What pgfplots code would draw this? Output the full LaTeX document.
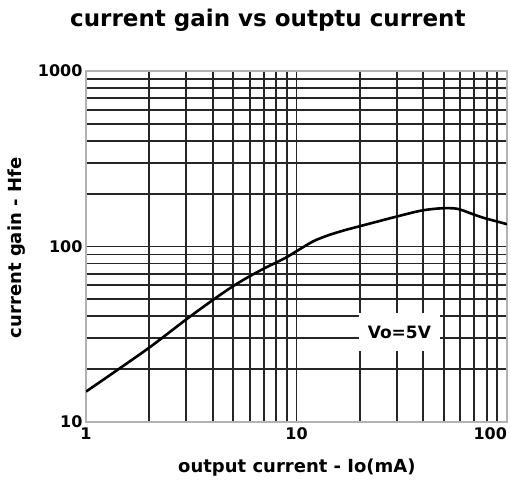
\documentclass[border=0pt]{standalone}
\usepackage{fontspec}
\setmainfont{DejaVu Sans}
\usepackage{pgfplots}
\pgfplotsset{compat=1.18}
\begin{document}
\begin{tikzpicture}
\begin{axis}[
  scale only axis,
  width=421pt, height=351pt,
  xmode=log, ymode=log,
  xmin=1, xmax=100, ymin=10, ymax=1000,
  xtick={1,10,100},
  xticklabels={1,10,\makebox[0pt][r]{100}},
  ytick={10,100,1000},
  yticklabels={10,100,1000},
  minor xtick={2,3,4,5,6,7,8,9,20,30,40,50,60,70,80,90},
  minor ytick={20,30,40,50,60,70,80,90,200,300,400,500,600,700,800,900},
  grid=both,
  major grid style={black!85, line width=1.9pt},
  minor grid style={black!85, line width=1.9pt},
  axis line style={gray!60, line width=1.9pt},
  tick style={draw=none},
  /pgf/number format/assume math mode=true,
  ticklabel style={font=\fontsize{16}{18}\selectfont\bfseries},
  xticklabel style={yshift=-2pt},
  title={current gain vs outptu current},
  title style={font=\fontsize{23}{27}\selectfont\bfseries, at={(axis description cs:0.432,1.128)}, anchor=center},
  xlabel={output current - Io(mA)},
  xlabel style={font=\fontsize{18}{21}\selectfont\bfseries, at={(axis description cs:0.501,-0.131)}, anchor=center},
  ylabel={current gain - Hfe},
  ylabel style={font=\fontsize{18}{21}\selectfont\bfseries, at={(axis description cs:-0.164,0.496)}, anchor=center, rotate=0},
]
\addplot[black, line width=2.6pt, smooth] coordinates {
(1,14.9) (1.41,19.8) (2.02,26.8) (3,38.5) (4,49.5) (4.95,59) (5.94,67.3) (7.1,75.5)
(8.84,86) (10,94) (12,107) (14.2,116) (17,124) (20,130.5) (24.4,139)
(29.2,147) (39,160) (48.5,165) (58,164) (69.7,152) (77.7,145.5) (96.5,135.6) (100,134)
};
\node[fill=white, minimum width=81pt, minimum height=38pt, inner sep=0pt,
      font=\fontsize{17}{20}\selectfont\bfseries] at (axis cs:30.8,32.6) {Vo=5V};
\end{axis}
\path (-86pt,-68pt) rectangle (425pt,422pt);
\end{tikzpicture}
\end{document}
